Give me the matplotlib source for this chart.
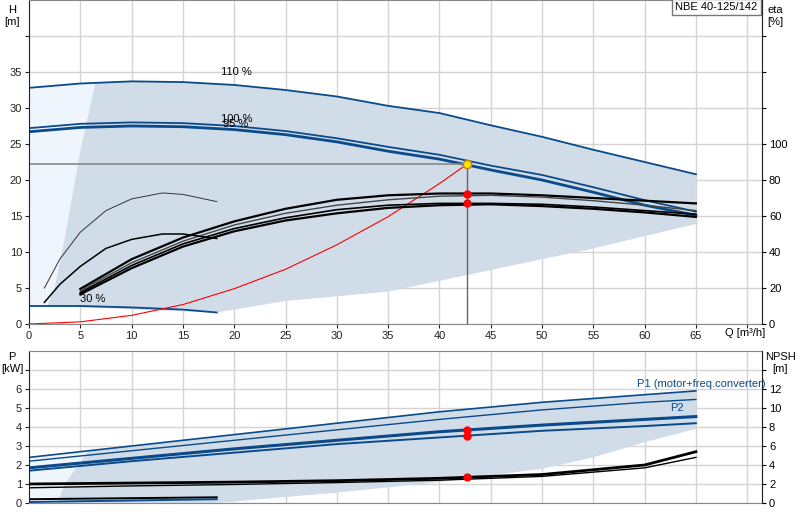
import matplotlib
matplotlib.use("Agg")
import matplotlib.pyplot as plt
import numpy as np

plt.rcParams['font.family'] = ['Liberation Sans', 'DejaVu Sans']
plt.rcParams['font.size'] = 8

# ---------------- data ----------------
q_full = [0, 5, 10, 15, 20, 25, 30, 35, 40, 45, 50, 55, 60, 65]
h_110 = [32.8, 33.4, 33.7, 33.6, 33.2, 32.5, 31.6, 30.3, 29.3, 27.6, 26.0, 24.2, 22.5, 20.8]
h_100 = [27.2, 27.8, 28.0, 27.9, 27.5, 26.8, 25.8, 24.6, 23.5, 22.0, 20.7, 19.0, 17.2, 15.6]
h_95 = [26.7, 27.3, 27.5, 27.4, 27.0, 26.3, 25.3, 24.0, 22.9, 21.4, 20.0, 18.3, 16.5, 15.1]
q_30 = [0, 5, 10, 15, 18.3]
h_30 = [2.5, 2.5, 2.3, 2.0, 1.6]

q_eta = [5, 10, 15, 20, 25, 30, 35, 40, 45, 50, 55, 60, 65]
eta_a = [19.5, 36, 48, 57, 64, 69, 71.5, 72.5, 72.5, 71.5, 70, 68.5, 67]
eta_b = [18.5, 34, 46, 55, 61.5, 66, 69, 71, 71.5, 70.5, 68.5, 66, 63]
eta_c = [17.5, 32.5, 44.5, 53, 59, 63.5, 66, 67, 67, 66.5, 65, 63, 61]
eta_d = [16.5, 31, 43, 51.5, 57.5, 61.5, 64.5, 66, 66.5, 65.5, 64, 62, 59.5]
q_eta_low = [1.5, 3, 5, 7.5, 10, 13, 15, 18.3]
eta_low1 = [20, 36, 51, 63, 69.5, 72.8, 72, 68]
eta_low2 = [12, 22, 32, 42, 47, 50, 50, 47.5]

q_sys = [0, 5, 10, 15, 20, 25, 30, 35, 40, 42.7]
h_sys = [0, 0.3, 1.2, 2.7, 4.9, 7.6, 11.0, 14.9, 19.5, 22.2]
q_op, h_op = 42.7, 22.2
eta_op = [72, 67]

q_p = [0, 10, 20, 30, 40, 50, 60, 65]
p1_a = [2.4, 3.0, 3.6, 4.2, 4.8, 5.3, 5.7, 5.9]
p1_b = [2.2, 2.75, 3.3, 3.85, 4.4, 4.9, 5.3, 5.45]
p2_a = [1.85, 2.35, 2.85, 3.3, 3.75, 4.1, 4.4, 4.55]
p2_b = [1.7, 2.2, 2.65, 3.1, 3.45, 3.8, 4.05, 4.2]
p_op = [3.85, 3.55]
npsh_a = [2.0, 2.1, 2.2, 2.35, 2.6, 3.0, 4.0, 5.4]
npsh_b = [1.6, 1.8, 1.95, 2.15, 2.4, 2.8, 3.7, 4.8]
npsh_op = 2.7
q_low = [0, 18.3]
p_low1 = [0.2, 0.3]
p_low2 = [0.05, 0.2]

# envelopes
env_top_lo_q = [65, 55, 45, 35, 25, 18.3]
env_top_lo_h = [13.9, 10.5, 7.5, 4.5, 3.2, 1.6]
dark_left_q = [1.8, 2.5, 3.5, 5, 6.5]
dark_left_h = [2.5, 5, 12, 24, 33.6]
env_bot_lo_q = [65, 60, 55, 50, 40, 30, 18.3]
env_bot_lo_p = [3.9, 3.2, 2.4, 1.8, 1.1, 0.55, 0.0]

# ---------------- figure ----------------
fig = plt.figure(figsize=(8, 5.2), dpi=100)
ax = fig.add_axes([29/800, 1-324/520, (762-29)/800, 324/520])
axb = fig.add_axes([29/800, 1-503/520, (762-29)/800, (503-351)/520])

XMAX = (762-29)/10.26
light = '#eef5fc'
dark = '#d0dce7'
blue = '#0b4a8a'

for a in (ax, axb):
    a.set_xlim(0, XMAX)
    a.set_xticks(np.arange(0, 75, 5))
    a.grid(True, color='#d4d4d4', lw=1)
    a.set_axisbelow(True)
    for s in a.spines.values():
        s.set_color('#888888')
    a.spines['left'].set_color('#222222')
    a.tick_params(length=3, colors='#222222', labelsize=8, pad=2)

# top
ax.set_ylim(0, 45)
ax.set_yticks(np.arange(0, 45, 5))
ax.set_yticklabels([str(v) if v <= 35 else '' for v in range(0, 45, 5)])
ax.set_xticklabels([str(v) if v <= 65 else '' for v in range(0, 75, 5)])

ax.fill_between([0, 6.5], [2.5, 2.5], [32.8, 33.6], color=light, lw=0)
top_q = list(dark_left_q) + [q for q in q_full if q > 6.5]
top_h = list(dark_left_h) + [h for q, h in zip(q_full, h_110) if q > 6.5]
poly_q = top_q + env_top_lo_q[:-1] + [18.3, 1.8]
poly_h = top_h + env_top_lo_h[:-1] + [1.6, 2.5]
ax.fill(poly_q, poly_h, color=dark, lw=0)

for h, lw in ((h_110, 1.3), (h_100, 1.3), (h_95, 2.0)):
    ax.plot(q_full, h, color=blue, lw=lw)
ax.plot(q_30, h_30, color=blue, lw=1.3)

ax2 = ax.twinx()
ax2.set_ylim(0, 180)
ax2.set_yticks(np.arange(0, 180, 20))
ax2.set_yticklabels([str(v) if v <= 100 else '' for v in range(0, 180, 20)])
ax2.tick_params(length=3, labelsize=8, pad=2)
for s in ax2.spines.values():
    s.set_visible(False)
ax2.spines['right'].set_visible(True)
ax2.spines['right'].set_color('#222222')
ax2.plot(q_eta, eta_a, color='black', lw=1.6)
ax2.plot(q_eta, eta_b, color='#444444', lw=1.0)
ax2.plot(q_eta, eta_c, color='black', lw=1.2)
ax2.plot(q_eta, eta_d, color='black', lw=1.6)
ax2.plot(q_eta_low, eta_low1, color='#333333', lw=0.7)
ax2.plot(q_eta_low, eta_low2, color='black', lw=1.1)
ax2.plot([q_op]*2, eta_op, 'o', color='red', ms=5)

ax.plot(q_sys, h_sys, color='red', lw=0.8)
ax.plot([0, q_op], [h_op, h_op], color='#888888', lw=1.2)
ax.plot([q_op, q_op], [0, h_op], color='#666666', lw=1.0)
ax.plot(q_op, h_op, 'o', color='#f5e400', mec='#d08000', ms=6)

ax.text(18.7, 34.6, '110 %', fontsize=8)
ax.text(18.7, 28.0, '100 %', fontsize=8)
ax.text(18.9, 27.4, '95 %', fontsize=8)
ax.text(5, 3.1, '30 %', fontsize=8)
ax.text(71.0, 44.7, 'NBE 40-125/142', fontsize=8, ha='right', va='top',
        bbox=dict(facecolor='white', edgecolor='#777777', boxstyle='square,pad=0.3'))
fig.text(12/800, 1-5/520, 'H\n[m]', ha='center', va='top', fontsize=8)
fig.text(775/800, 1-5/520, 'eta\n[%]', ha='center', va='top', fontsize=8)
ax.text(67.8, -0.6, 'Q [m³/h]', fontsize=8, va='top', ha='left')

# bottom
axb.set_ylim(0, 8)
axb.set_yticks(range(0, 8))
axb.set_yticklabels([str(v) if v <= 6 else '' for v in range(0, 8)])
axb.set_xticklabels([])
axb.tick_params(axis='x', length=0)
axb.fill_between([0, 5.8], [0, 0], [2.4, 2.75], color=light, lw=0)
bq = [5.8, 3.5, 2.8] + [18.3] + env_bot_lo_q[::-1][1:]
bp = [2.75, 1.0, 0.0] + [0.0] + env_bot_lo_p[::-1][1:]
uq = [q for q in q_p if q > 5.8][::-1]
up = [p for q, p in zip(q_p, p1_a) if q > 5.8][::-1]
axb.fill(bq + uq, bp + up, color=dark, lw=0)
axb.plot(q_p, p1_a, color=blue, lw=1.2)
axb.plot(q_p, p1_b, color=blue, lw=1.0)
axb.plot(q_p, p2_a, color=blue, lw=2.2)
axb.plot(q_p, p2_b, color=blue, lw=1.4)
axb.plot(q_low, p_low1, color='black', lw=1.4)
axb.plot(q_low, p_low2, color=blue, lw=1.4)
axb.plot([q_op]*2, p_op, 'o', color='red', ms=5)
axb.text(59.3, 6.1, 'P1 (motor+freq.converter)', color=blue, fontsize=8)
axb.text(62.5, 4.85, 'P2', color=blue, fontsize=8)

axb2 = axb.twinx()
axb2.set_ylim(0, 16)
axb2.set_yticks(range(0, 16, 2))
axb2.set_yticklabels([str(v) if v <= 12 else '' for v in range(0, 16, 2)])
axb2.tick_params(length=3, labelsize=8, pad=2)
for s in axb2.spines.values():
    s.set_visible(False)
axb2.spines['right'].set_visible(True)
axb2.spines['right'].set_color('#222222')
axb2.plot(q_p, npsh_a, color='black', lw=2.0)
axb2.plot(q_p, npsh_b, color='black', lw=1.0)
axb2.plot(q_op, npsh_op, 'o', color='red', ms=5)
fig.text(12/800, 1-352/520, 'P\n[kW]', ha='center', va='top', fontsize=8)
fig.text(780/800, 1-352/520, 'NPSH\n[m]', ha='center', va='top', fontsize=8)

fig.savefig('out.png', dpi=100)
